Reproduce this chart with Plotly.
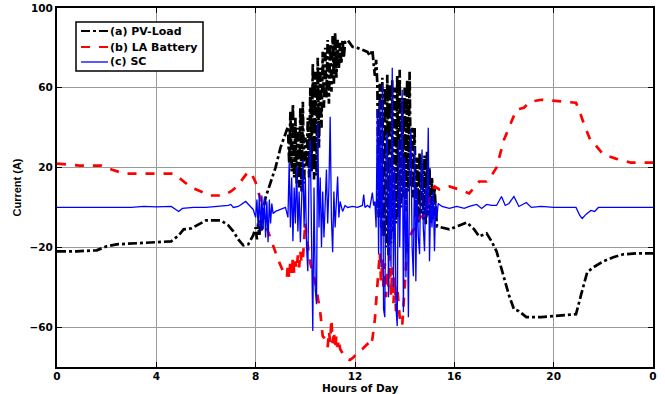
import plotly.graph_objects as go

# ---- data (hours, current in A) ----
pv_hours = [0, 0.8, 1.6, 2.0, 2.4, 3.0, 4.0, 4.6, 4.9, 5.1, 5.4, 5.7, 6.0, 6.6, 6.9, 7.1, 7.3, 7.5, 7.7, 7.9, 8.0,
            8.05, 8.1, 8.15, 8.2, 8.25, 8.3, 8.4, 8.5, 8.6, 8.8, 9.0, 9.2, 9.3,
            9.35, 9.4, 9.45, 9.5, 9.55, 9.6, 9.65, 9.7, 9.75, 9.8, 9.85, 9.9, 9.95, 10.0, 10.05, 10.1, 10.15,
            10.2, 10.25, 10.3, 10.35, 10.4, 10.45, 10.5, 10.55, 10.6, 10.65, 10.7, 10.75, 10.8, 10.85, 10.9,
            10.95, 11.0, 11.05, 11.1, 11.15, 11.2, 11.25, 11.3, 11.35, 11.4, 11.45, 11.5, 11.55, 11.6, 11.7,
            11.8, 11.9, 12.1, 12.3, 12.5, 12.6, 12.7, 12.75, 12.8, 12.85, 12.9,
            12.95, 13.0, 13.05, 13.1, 13.15, 13.2, 13.25, 13.3, 13.35, 13.4, 13.45, 13.5, 13.55, 13.6, 13.65,
            13.7, 13.75, 13.8, 13.85, 13.9, 13.95, 14.0, 14.05, 14.1, 14.15, 14.2, 14.25, 14.3, 14.35, 14.4,
            14.45, 14.5, 14.55, 14.6, 14.65, 14.7, 14.75, 14.8, 14.85, 14.9, 14.95, 15.0, 15.05, 15.1, 15.15,
            15.2, 15.3, 15.5, 15.8, 16.2, 16.5, 16.8, 17.0, 17.3, 17.5, 17.7, 18.0, 18.2, 18.4, 18.6, 18.9,
            19.5, 20.0, 20.5, 20.9, 21.1, 21.35, 21.6, 22.0, 22.4, 22.8, 23.4, 24]
pv_load = [-22, -22, -21.5, -19.5, -18.5, -18, -17.5, -17, -14, -11, -10.5, -8.5, -6.5, -6.5, -9, -12, -16, -19, -18.5, -14, -10,
           -16, -8, -14, -6, -12, -2, 5, 9, 12.5, 20, 30, 37, 40.5,
           22, 48, 18, 52, 15, 45, 12, 40, 10, 50, 8, 53, 12, 35, 20, 45, 15,
           60, 18, 72, 14, 68, 16, 75, 30, 70, 40, 78, 50, 80, 55, 84,
           52, 82, 58, 86, 62, 87.5, 65, 84, 70, 82.5, 72, 84, 75, 83, 84,
           82, 80.5, 80, 79, 78, 76, 79, 72, 66, 74, 62,
           -5, 62, -10, 65, -15, 60, -20, 66.5, -24, 62, -18, 64, -12, 60, -8,
           66, -5, 69, 0, 55, 5, 60, -2, 64, 8, 68, 10, 40, 5, 40,
           -5, 25, -8, 27.5, -3, 22, -6, 26, -9, 28, -4, 20, -8, 15, -6,
           10, -9.5, -10, -11, -9, -7.5, -11, -14.5, -13, -17, -22, -36, -44, -51, -52, -55,
           -55, -54.5, -54, -53.5, -44, -32.5, -30, -27, -25, -23.5, -23, -23]

la_hours = [0, 0.9, 1.8, 2.2, 2.7, 3.5, 4.7, 5.0, 5.4, 5.8, 6.1, 6.7, 7.0, 7.25, 7.5, 7.7, 7.85, 8.0, 8.1, 8.2,
            8.3, 8.4, 8.5, 8.7, 8.9, 9.1, 9.26,
            9.3, 9.35, 9.4, 9.45, 9.5, 9.55, 9.6, 9.65, 9.7, 9.75, 9.8, 9.85, 9.9, 9.95, 10.0, 10.05, 10.1,
            10.2, 10.3, 10.4, 10.5, 10.6, 10.7, 10.8, 10.9, 10.95, 11.0, 11.05, 11.1, 11.15, 11.2, 11.25,
            11.3, 11.35, 11.4, 11.5, 11.6, 11.7, 11.8, 11.95, 12.1, 12.3, 12.5, 12.6, 12.7, 12.8, 12.9, 13.0,
            13.05, 13.1, 13.15, 13.2, 13.25, 13.3, 13.35, 13.4, 13.45, 13.5, 13.55, 13.6, 13.65, 13.7, 13.8,
            13.9, 14.0, 14.1, 14.2, 14.3, 14.5, 14.6, 14.8, 14.9, 15.0, 15.1, 15.2, 15.4, 15.8, 16.2, 16.6,
            16.8, 17.0, 17.3, 17.5, 17.7, 17.85, 18.0, 18.2, 18.5, 18.8, 19.05, 19.5, 20.0, 20.5, 20.9, 21.05,
            21.2, 21.5, 21.7, 22.0, 22.5, 23.1, 24]
la_battery = [22, 21, 21, 19, 17, 17, 17, 14, 10, 8, 6, 6, 8, 10.5, 15, 18, 16.5, 12.5, 8, 4,
              -2, -8, -12, -19.5, -26, -32, -35,
              -28, -36, -26, -34, -25, -33, -27, -31, -24, -30, -22, -28, -26, -15, -7.5, -15, -20,
              -28, -33, -37.5, -45, -52.5, -64.5, -66, -70, -62, -67.5, -56, -68, -62, -71, -64,
              -70, -66, -71, -73, -75, -76, -76.5, -75, -72.5, -71, -68.5, -70, -66, -56, -41, -22.5,
              -38, -26, -42, -28, -45, -32, -40, -24, -44, -30, -48, -35, -52, -40, -55,
              -59.5, -40, -19.5, -15, -12, -9.5, -5, -4, 0, 5.5, 8, 10.5, 9, 10.5, 9, 7,
              10, 13, 13, 16, 20, 27, 34, 40, 49, 50, 53, 54, 53.5, 53, 52.5, 48,
              42.5, 33, 31, 26.5, 24.5, 22.5, 22.5]

sc_hours = [0, 1, 2, 3, 3.5, 4, 4.6, 4.8, 4.9, 5.05, 5.5, 6, 6.5, 6.9, 7.0, 7.1, 7.3, 7.6, 7.75, 7.9,
            8.0, 8.05, 8.1, 8.15, 8.2, 8.25, 8.3, 8.35, 8.4, 8.45, 8.5, 8.55, 8.6, 8.65, 8.7, 8.8, 9.0, 9.2,
            9.3, 9.35, 9.4, 9.45, 9.5, 9.55, 9.6, 9.65, 9.7, 9.75, 9.8, 9.85, 9.9, 9.95, 10.0, 10.05, 10.1,
            10.15, 10.2, 10.25, 10.3, 10.35, 10.4, 10.45, 10.5, 10.55, 10.6, 10.65, 10.7, 10.75, 10.8, 10.85,
            10.9, 10.95, 11.0, 11.05, 11.1, 11.15, 11.2, 11.25, 11.3, 11.35, 11.4, 11.5, 11.6, 11.7, 11.9,
            12.1, 12.3, 12.35, 12.4, 12.5, 12.6, 12.7, 12.75, 12.8, 12.85, 12.9, 12.95, 13.0, 13.05, 13.1,
            13.15, 13.2, 13.25, 13.3, 13.35, 13.4, 13.45, 13.5, 13.55, 13.6, 13.65, 13.7, 13.75, 13.8, 13.85,
            13.9, 13.95, 14.0, 14.05, 14.1, 14.15, 14.2, 14.25, 14.3, 14.35, 14.4, 14.45, 14.5, 14.55, 14.6,
            14.65, 14.7, 14.75, 14.8, 14.85, 14.9, 14.95, 15.0, 15.05, 15.1, 15.15, 15.2, 15.25, 15.3, 15.35,
            15.5, 15.8, 16.1, 16.4, 16.6, 16.9, 17.1, 17.3, 17.5, 17.7, 17.9, 18.05, 18.2, 18.4, 18.6, 18.9,
            19.1, 19.5, 20.0, 20.5, 20.9, 21.05, 21.15, 21.3, 21.5, 21.65, 21.8, 22.5, 23, 24]
sc_current = [0, 0, 0.2, 0, 0.5, 0.3, 0.5, -1, -2, -0.5, 0, 0, 0.5, 1, 1.5, 0, 0.5, 3, 1, -1,
              -5, 4, -10, 7, -12, 6, -11, 5, -15, 3, -17.5, 4, -8, 2, -3, -2, -1, 0,
              -5, 22.5, -10, 15, -17, 10, -8, 20.5, -12, 8, -17.5, 12, 24, -10, 15, -20, -32,
              20, 34, -15, -62, 10, -41, -48.5, 42.5, -10, 15, -20, 8, -15, 5, 19,
              -8, 10, 45.5, -5, -22.5, 8, -10, 5, 15.5, -5, 3, -2, 1, 0, 0.5,
              0, 1, 6.5, 0, 1, 0, 7.5, 1, 3, -10, 49, -23.5, 54, -30, 61.5,
              -51, -55, 30, 37.5, -45, 25, -30, 70, -40, 20, -50, -59.5, 34, -20, 15,
              59, -52.5, 25, -35, 10, -55, 20, 39, -20, -34.5, 30, -37, 10, -15, -23.5,
              15, 29, -10, -22, 10, -5, 40, -27, 5, -10, 8, -22, 3, -5, 2,
              0.5, -0.5, 0.5, -0.5, 0.5, 1.5, -0.5, 1.5, 1, 1, 5.5, 1, 2, 5.5, 0.5, 2.5,
              0, 0.5, 0, 0, 0, -4, -5.5, -3.5, -1.5, -2, 0, 0, 0, 0]

x_tick_vals = [0, 4, 8, 12, 16, 20, 24]
x_tick_text = ["0", "4", "8", "12", "16", "20", "0"]
y_tick_vals = [-60, -20, 20, 60, 100]

series_names = ["(a) PV-Load", "(b) LA Battery", "(c) SC"]
series_colors = ["black", "#ff0000", "#0000ff"]
series_dash = ["dashdot", "dash", "solid"]
series_width = [2.7, 2.7, 1.3]

WIDE_BOLD = dict(family="DejaVu Sans", color="black", weight="bold")

fig = go.Figure()
for name, xs, ys, c, d, w in zip(series_names,
                                  [pv_hours, la_hours, sc_hours],
                                  [pv_load, la_battery, sc_current],
                                  series_colors, series_dash, series_width):
    fig.add_trace(go.Scatter(x=xs, y=ys, mode="lines", name=name,
                             line=dict(color=c, width=w, dash=d)))

axis_common = dict(showline=True, linecolor="black", linewidth=2, mirror="ticks",
                   ticks="inside", ticklen=5, tickcolor="black", tickwidth=1,
                   showgrid=True, gridcolor="#9a9a9a", gridwidth=1, zeroline=False,
                   automargin=False,
                   tickfont=dict(size=10.5, **WIDE_BOLD))

# ---- hand-placed legend box (MATLAB style) and x-axis title ----
px0, px1, py0, py1 = 57, 653, 8, 367  # plot-area pixel frame
def fx(px):
    return (px - px0) / (px1 - px0)
def fy(py):
    return (py1 - py) / (py1 - py0)

shapes = [dict(type="rect", xref="paper", yref="paper",
               x0=fx(76), x1=fx(203), y0=fy(71), y1=fy(22),
               line=dict(color="black", width=1.5), fillcolor="white", layer="above")]
annotations = []
row_y = [31, 47, 62]
for name, c, d, w, ry in zip(series_names, series_colors, series_dash, series_width, row_y):
    shapes.append(dict(type="line", xref="paper", yref="paper",
                       x0=fx(81), x1=fx(108), y0=fy(ry), y1=fy(ry),
                       line=dict(color=c, width=min(w, 2.2), dash=d), layer="above"))
    annotations.append(dict(xref="paper", yref="paper", x=fx(108), y=fy(ry),
                            xanchor="left", yanchor="middle", showarrow=False,
                            text=name, font=dict(size=11, **WIDE_BOLD)))

annotations.append(dict(xref="paper", yref="paper", x=fx(360), y=fy(387.5),
                        xanchor="center", yanchor="middle", showarrow=False,
                        borderpad=0, text="Hours of Day", font=dict(size=10.5, **WIDE_BOLD)))

fig.update_layout(
    width=665, height=394,
    margin=dict(l=57, r=12, t=8, b=27),
    paper_bgcolor="white", plot_bgcolor="white",
    font=dict(size=11, **WIDE_BOLD),
    showlegend=False,
    shapes=shapes,
    annotations=annotations,
    xaxis=dict(range=[0, 24], tickvals=x_tick_vals, ticktext=x_tick_text,
               ticklabelstandoff=-2,
               **axis_common),
    yaxis=dict(range=[-80, 100], tickvals=y_tick_vals,
               title=dict(text="Current (A)", standoff=6,
                          font=dict(family="Liberation Sans", size=11, color="black", weight="bold")),
               **axis_common),
)

fig.write_html("out.html")
